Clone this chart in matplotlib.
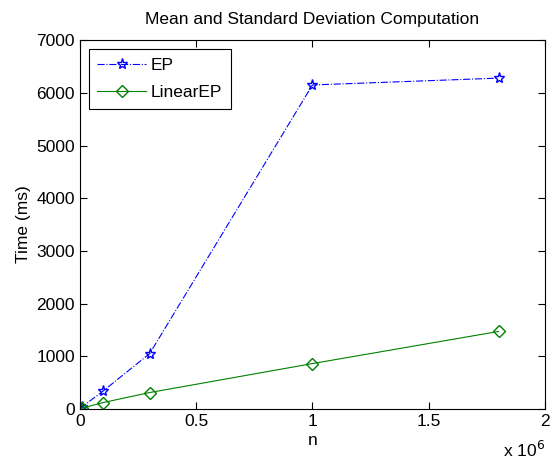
import numpy as np
import matplotlib
matplotlib.use('Agg')
import matplotlib.pyplot as plt

plt.rcParams['font.family'] = ['Liberation Sans', 'DejaVu Sans']

# data
n = [1000, 10000, 100000, 300000, 1000000, 1800000]
ep_time = [5, 40, 340, 1050, 6150, 6280]
linear_time = [3, 15, 120, 310, 860, 1470]

fs = 12.5
fig = plt.figure(figsize=(5.55, 4.62), dpi=100)
ax = fig.add_axes([0.144, 0.115, 0.838, 0.798])

ax.plot(n, ep_time, '-.', color='blue', marker='*', markersize=8,
        markerfacecolor='none', linewidth=0.8, label='EP')
ax.plot(n, linear_time, '-', color='green', marker='D', markersize=6,
        markerfacecolor='none', linewidth=0.8, label='LinearEP')

ax.set_xlim(0, 2e6)
ax.set_ylim(0, 7000)
ax.set_xticks([0, 0.5e6, 1e6, 1.5e6, 2e6])
ax.set_xticklabels(['0', '0.5', '1', '1.5', '2'])
ax.set_yticks(range(0, 7001, 1000))
ax.tick_params(direction='in', top=True, right=True, labelsize=fs, length=5)
ax.text(1.0, -0.085, r'x 10$^{6}$', transform=ax.transAxes, ha='right',
        va='top', fontsize=fs)

ax.set_xlabel('n', fontsize=fs, labelpad=3)
ax.set_ylabel('Time (ms)', fontsize=fs)
ax.set_title('Mean and Standard Deviation Computation', fontsize=fs, pad=12)

leg = ax.legend(loc='upper left', fontsize=fs, fancybox=False,
                edgecolor='black', framealpha=1, handlelength=2.8,
                handletextpad=0.3, borderaxespad=0.5, labelspacing=0.7,
                borderpad=0.5)
leg.get_frame().set_linewidth(0.8)

fig.savefig('out.png', dpi=100)
